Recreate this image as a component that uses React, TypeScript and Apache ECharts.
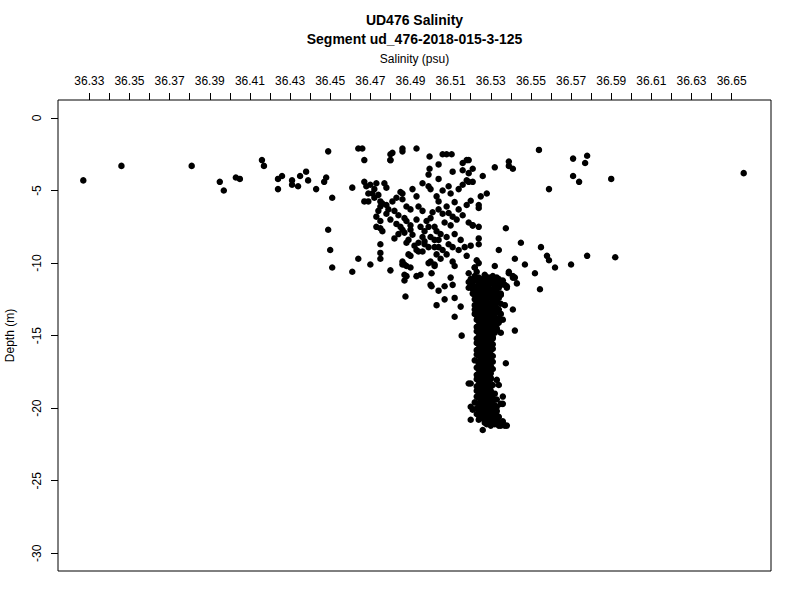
import React, { useEffect, useRef } from "react";
import * as echarts from "echarts";

const titleText = "UD476 Salinity";
const subtitleText = "Segment ud_476-2018-015-3-125";
const xAxisName = "Salinity (psu)";
const yAxisName = "Depth (m)";

const xTickValues = [
  36.33, 36.34, 36.35, 36.36, 36.37, 36.38, 36.39, 36.4, 36.41, 36.42, 36.43, 36.44,
  36.45, 36.46, 36.47, 36.48, 36.49, 36.5, 36.51, 36.52, 36.53, 36.54, 36.55, 36.56,
  36.57, 36.58, 36.59, 36.6, 36.61, 36.62, 36.63, 36.64, 36.65,
];
const xLabelValues = [
  36.33, 36.35, 36.37, 36.39, 36.41, 36.43, 36.45, 36.47, 36.49, 36.51, 36.53, 36.55,
  36.57, 36.59, 36.61, 36.63, 36.65,
];
const yTickValues = [0, -5, -10, -15, -20, -25, -30];

// Sparse near-surface points (salinity, depth)
const surfacePoints: [number, number][] = [
  [36.327, -4.3], [36.346, -3.3], [36.381, -3.3], [36.395, -4.4], [36.397, -5.0],
  [36.403, -4.1], [36.405, -4.2], [36.416, -2.9], [36.417, -3.3], [36.424, -4.2],
  [36.424, -4.9], [36.426, -4.0], [36.431, -4.3], [36.431, -4.6], [36.434, -4.7],
  [36.435, -4.0], [36.438, -3.7], [36.439, -4.3], [36.443, -4.9], [36.447, -4.4],
  [36.448, -4.1], [36.449, -2.3], [36.451, -5.5], [36.449, -7.7], [36.45, -9.1],
  [36.451, -10.3], [36.461, -10.6], [36.461, -4.8], [36.464, -2.1], [36.466, -2.1],
  [36.467, -2.9], [36.464, -9.7], [36.47, -10.1], [36.475, -9.7], [36.475, -9.3],
  [36.475, -8.7], [36.48, -10.5], [36.476, -7.8], [36.473, -7.5], [36.48, -2.9],
  [36.48, -2.5], [36.486, -2.1], [36.486, -2.3], [36.493, -2.1],
];

// Sparse points on the saltier side
const rightPoints: [number, number][] = [
  [36.554, -2.2], [36.571, -2.8], [36.578, -2.6], [36.577, -3.1], [36.571, -4.0],
  [36.574, -4.4], [36.59, -4.2], [36.559, -4.9], [36.656, -3.8], [36.539, -3.0],
  [36.539, -3.3], [36.541, -3.5], [36.532, -3.4], [36.526, -4.0], [36.521, -3.5],
  [36.521, -4.4], [36.528, -5.2], [36.525, -5.4], [36.524, -6.0], [36.524, -6.2],
  [36.5375, -7.6], [36.524, -7.5], [36.521, -7.4], [36.524, -8.3], [36.524, -8.7],
  [36.545, -8.6], [36.534, -9.1], [36.555, -8.9], [36.542, -9.7], [36.558, -9.5],
  [36.559, -9.8], [36.578, -9.5], [36.592, -9.6], [36.57, -10.1], [36.562, -10.3],
  [36.547, -10.1], [36.552, -10.7], [36.532, -10.2], [36.539, -10.6], [36.541, -10.9],
  [36.542, -11.0], [36.527, -10.8], [36.531, -10.9], [36.523, -9.8], [36.524, -10.0],
  [36.522, -10.3], [36.5545, -11.8],
];

// Upper mixed layer cloud
const mixedPoints: [number, number][] = [
  [36.481, -2.4], [36.48, -2.9], [36.4995, -2.65], [36.506, -2.5], [36.508, -2.5],
  [36.5105, -2.5], [36.504, -3.2], [36.4995, -3.5], [36.499, -3.9], [36.504, -4.2],
  [36.511, -3.7], [36.516, -3.1], [36.518, -2.9], [36.519, -2.9], [36.516, -3.6],
  [36.519, -3.8], [36.518, -4.3], [36.519, -4.4], [36.467, -4.4], [36.468, -4.7],
  [36.469, -5.2], [36.471, -5.2], [36.472, -5.5], [36.475, -5.75], [36.475, -6.1],
  [36.467, -5.75], [36.469, -5.75], [36.473, -4.5], [36.477, -4.5], [36.474, -6.4],
  [36.473, -6.8], [36.475, -7.1], [36.475, -7.6], [36.481, -5.75], [36.479, -6.3],
  [36.482, -6.4], [36.484, -6.7], [36.485, -5.1], [36.486, -5.2], [36.486, -5.6],
  [36.488, -6.1], [36.49, -6.3], [36.493, -5.4], [36.494, -6.1], [36.496, -6.4],
  [36.487, -6.9], [36.488, -7.1], [36.49, -7.4], [36.49, -7.7], [36.491, -8.05],
  [36.489, -8.4], [36.486, -7.7], [36.487, -7.9], [36.482, -8.3], [36.493, -7.0],
  [36.495, -7.5], [36.496, -8.2], [36.497, -8.5], [36.498, -7.1], [36.5, -6.9],
  [36.502, -7.5], [36.503, -7.8], [36.499, -4.7], [36.5, -4.9], [36.503, -5.4],
  [36.504, -5.75], [36.504, -6.3], [36.508, -6.1], [36.509, -4.7], [36.51, -5.2],
  [36.514, -4.9], [36.516, -4.6], [36.509, -6.55], [36.511, -6.8], [36.513, -7.0],
  [36.51, -7.4], [36.514, -6.3], [36.516, -6.7], [36.519, -7.2], [36.521, -7.4],
  [36.5, -8.2], [36.502, -8.4], [36.504, -8.4], [36.497, -8.7], [36.499, -8.9],
  [36.502, -8.9], [36.504, -8.9], [36.506, -9.1], [36.509, -8.7], [36.511, -8.9],
  [36.514, -9.1], [36.503, -9.4], [36.505, -9.7], [36.508, -9.4], [36.489, -9.4],
  [36.493, -9.1], [36.496, -9.2], [36.486, -9.9], [36.487, -10.1], [36.49, -10.3],
  [36.499, -10.0], [36.502, -10.2], [36.511, -9.9], [36.512, -10.2], [36.518, -9.5],
  [36.522, -10.3], [36.523, -10.6], [36.486, -10.1], [36.488, -10.2], [36.487, -10.8],
  [36.487, -11.2], [36.493, -10.9], [36.49, -9.5], [36.494, -9.2], [36.5, -9.9],
  [36.5005, -10.7], [36.5005, -11.6], [36.502, -10.1], [36.4875, -12.3], [36.488, -10.9],
  [36.495, -10.8],
  [36.47, -4.6], [36.472, -4.9], [36.474, -5.3], [36.476, -5.9], [36.478, -6.0],
  [36.478, -6.6], [36.48, -7.0], [36.483, -7.3], [36.485, -7.5], [36.484, -8.0],
  [36.488, -8.6], [36.492, -8.8], [36.494, -8.6], [36.497, -7.8], [36.499, -7.5],
  [36.501, -6.5], [36.506, -6.6], [36.507, -7.2], [36.505, -8.0], [36.508, -8.2],
  [36.512, -8.0], [36.515, -8.4], [36.517, -8.9], [36.52, -8.8], [36.518, -6.0],
  [36.52, -5.7], [36.512, -5.8], [36.506, -5.0], [36.496, -4.5], [36.491, -4.9],
  [36.478, -4.8], [36.483, -5.5],
];

// Transition / column edge points
const edgePoints: [number, number][] = [
  [36.503, -12.9], [36.507, -12.5], [36.512, -12.4], [36.512, -13.7], [36.515, -13.0],
  [36.5155, -15.0], [36.52, -18.3], [36.52, -20.8], [36.526, -21.5], [36.537, -21.2],
  [36.536, -19.7], [36.5375, -16.9], [36.542, -14.65], [36.537, -12.9], [36.541, -13.2],
  [36.533, -12.3], [36.5, -11.5], [36.504, -11.9], [36.507, -11.6], [36.511, -11.5],
  [36.51, -11.0], [36.519, -10.7], [36.52, -11.3], [36.522, -10.9], [36.527, -10.9],
  [36.528, -11.4], [36.53, -11.15], [36.539, -10.7], [36.541, -11.0], [36.543, -11.4],
  [36.537, -11.5], [36.538, -11.7], [36.522, -16.7], [36.519, -18.3], [36.52, -19.9],
  [36.521, -20.1], [36.535, -21.2], [36.532, -21.0], [36.535, -19.7], [36.536, -19.2],
  [36.533, -18.05], [36.534, -18.4], [36.536, -13.9], [36.535, -14.8], [36.533, -14.6],
];

// Dense deep column, even tenths
const columnPoints: [number, number][] = [
  [36.524, -11.0], [36.529, -11.0], [36.533, -11.0],
  [36.522, -11.2], [36.527, -11.2], [36.531, -11.2], [36.536, -11.2],
  [36.525, -11.4], [36.53, -11.4], [36.534, -11.4],
  [36.523, -11.6], [36.528, -11.6], [36.532, -11.6], [36.538, -11.6],
  [36.521, -11.8], [36.526, -11.8], [36.53, -11.8],
  [36.524, -12.0], [36.528, -12.0], [36.533, -12.0],
  [36.522, -12.2], [36.527, -12.2], [36.531, -12.2], [36.535, -12.2],
  [36.525, -12.4], [36.529, -12.4], [36.534, -12.4],
  [36.523, -12.6], [36.527, -12.6], [36.532, -12.6],
  [36.526, -12.8], [36.53, -12.8], [36.535, -12.8],
  [36.524, -13.0], [36.528, -13.0], [36.532, -13.0],
  [36.522, -13.2], [36.526, -13.2], [36.53, -13.2], [36.534, -13.2],
  [36.525, -13.4], [36.529, -13.4], [36.533, -13.4],
  [36.523, -13.6], [36.527, -13.6], [36.531, -13.6],
  [36.526, -13.8], [36.53, -13.8], [36.534, -13.8],
  [36.524, -14.0], [36.528, -14.0], [36.532, -14.0],
  [36.525, -14.2], [36.529, -14.2], [36.533, -14.2],
  [36.523, -14.4], [36.527, -14.4], [36.531, -14.4],
  [36.526, -14.6], [36.53, -14.6],
  [36.524, -14.8], [36.528, -14.8], [36.532, -14.8],
  [36.525, -15.0], [36.529, -15.0],
  [36.523, -15.2], [36.527, -15.2], [36.531, -15.2],
  [36.526, -15.4], [36.53, -15.4],
  [36.524, -15.6], [36.528, -15.6], [36.531, -15.6],
  [36.525, -15.8], [36.529, -15.8],
  [36.523, -16.0], [36.527, -16.0], [36.53, -16.0],
  [36.525, -16.2], [36.529, -16.2],
  [36.524, -16.4], [36.528, -16.4], [36.531, -16.4],
  [36.526, -16.6], [36.529, -16.6],
  [36.524, -16.8], [36.527, -16.8], [36.531, -16.8],
  [36.525, -17.0], [36.529, -17.0],
  [36.523, -17.2], [36.527, -17.2], [36.53, -17.2],
  [36.525, -17.4], [36.528, -17.4],
  [36.524, -17.6], [36.527, -17.6], [36.53, -17.6],
  [36.525, -17.8], [36.529, -17.8],
  [36.523, -18.0], [36.527, -18.0], [36.53, -18.0],
  [36.525, -18.2], [36.528, -18.2],
  [36.524, -18.4], [36.527, -18.4], [36.531, -18.4],
  [36.525, -18.6], [36.529, -18.6],
  [36.523, -18.8], [36.527, -18.8], [36.53, -18.8],
  [36.525, -19.0], [36.528, -19.0], [36.532, -19.0],
  [36.523, -19.2], [36.527, -19.2], [36.53, -19.2],
  [36.525, -19.4], [36.529, -19.4], [36.533, -19.4],
  [36.522, -19.6], [36.526, -19.6], [36.53, -19.6],
  [36.524, -19.8], [36.528, -19.8], [36.532, -19.8],
  [36.523, -20.0], [36.527, -20.0], [36.531, -20.0],
  [36.525, -20.2], [36.529, -20.2], [36.533, -20.2],
  [36.523, -20.4], [36.527, -20.4], [36.531, -20.4],
  [36.526, -20.6], [36.53, -20.6], [36.534, -20.6],
  [36.524, -20.8], [36.528, -20.8], [36.532, -20.8],
  [36.527, -21.0], [36.531, -21.0], [36.535, -21.0],
  [36.53, -21.2], [36.534, -21.2], [36.538, -21.2],
];

// Dense deep column, odd tenths
const columnPointsOdd: [number, number][] = [
  [36.52, -11.1], [36.526, -11.1], [36.534, -11.1],
  [36.519, -11.3], [36.524, -11.3], [36.529, -11.3], [36.533, -11.3],
  [36.521, -11.5], [36.527, -11.5], [36.535, -11.5],
  [36.519, -11.7], [36.525, -11.7], [36.529, -11.7], [36.534, -11.7],
  [36.523, -11.9], [36.528, -11.9], [36.532, -11.9],
  [36.521, -12.1], [36.526, -12.1], [36.53, -12.1], [36.535, -12.1],
  [36.524, -12.3], [36.529, -12.3], [36.533, -12.3],
  [36.522, -12.5], [36.526, -12.5], [36.531, -12.5],
  [36.524, -12.7], [36.528, -12.7], [36.533, -12.7],
  [36.522, -12.9], [36.527, -12.9], [36.531, -12.9],
  [36.525, -13.1], [36.529, -13.1], [36.533, -13.1],
  [36.524, -13.3], [36.528, -13.3], [36.532, -13.3],
  [36.522, -13.5], [36.526, -13.5], [36.53, -13.5], [36.535, -13.5],
  [36.524, -13.7], [36.528, -13.7], [36.532, -13.7],
  [36.523, -13.9], [36.527, -13.9], [36.531, -13.9],
  [36.526, -14.1], [36.53, -14.1], [36.534, -14.1],
  [36.524, -14.3], [36.528, -14.3], [36.532, -14.3],
  [36.525, -14.5], [36.529, -14.5], [36.533, -14.5],
  [36.523, -14.7], [36.527, -14.7], [36.531, -14.7],
  [36.526, -14.9], [36.53, -14.9],
  [36.524, -15.1], [36.528, -15.1], [36.531, -15.1],
  [36.525, -15.3], [36.529, -15.3],
  [36.523, -15.5], [36.527, -15.5], [36.53, -15.5],
  [36.526, -15.7], [36.529, -15.7],
  [36.524, -15.9], [36.527, -15.9], [36.531, -15.9],
  [36.525, -16.1], [36.528, -16.1],
  [36.523, -16.3], [36.527, -16.3], [36.53, -16.3],
  [36.525, -16.5], [36.528, -16.5],
  [36.526, -16.7], [36.53, -16.7],
  [36.524, -16.9], [36.528, -16.9],
  [36.526, -17.1], [36.53, -17.1],
  [36.524, -17.3], [36.528, -17.3], [36.531, -17.3],
  [36.526, -17.5], [36.529, -17.5],
  [36.523, -17.7], [36.528, -17.7],
  [36.526, -17.9], [36.53, -17.9],
  [36.524, -18.1], [36.528, -18.1],
  [36.526, -18.3], [36.529, -18.3],
  [36.523, -18.5], [36.527, -18.5], [36.53, -18.5],
  [36.526, -18.7], [36.528, -18.7],
  [36.524, -18.9], [36.529, -18.9],
  [36.526, -19.1], [36.53, -19.1],
  [36.524, -19.3], [36.528, -19.3], [36.531, -19.3],
  [36.527, -19.5], [36.531, -19.5],
  [36.524, -19.7], [36.528, -19.7],
  [36.526, -19.9], [36.53, -19.9], [36.533, -19.9],
  [36.525, -20.1], [36.529, -20.1],
  [36.527, -20.3], [36.531, -20.3],
  [36.524, -20.5], [36.528, -20.5], [36.533, -20.5],
  [36.526, -20.7], [36.53, -20.7],
  [36.529, -20.9], [36.533, -20.9], [36.536, -20.9],
  [36.528, -21.1], [36.532, -21.1], [36.536, -21.1],
];

const FONT = "Liberation Sans";

export default function App() {
  const ref = useRef<HTMLDivElement>(null);

  useEffect(() => {
    if (!ref.current) return;
    const chart = echarts.init(ref.current, null, { renderer: "svg" });
    const gridLeft = 58;
    const gridRight = 29;
    const gridTop = 100;
    const gridBottom = 29;
    const plotCenterX = gridLeft + (800 - gridLeft - gridRight) / 2;
    const plotCenterY = gridTop + (600 - gridTop - gridBottom) / 2;
    const allPoints = [
      ...surfacePoints,
      ...rightPoints,
      ...mixedPoints,
      ...edgePoints,
      ...columnPoints,
      ...columnPointsOdd,
    ];
    chart.setOption({
      animation: false,
      backgroundColor: "#ffffff",
      textStyle: { fontFamily: FONT },
      grid: {
        left: gridLeft,
        right: gridRight,
        top: gridTop,
        bottom: gridBottom,
        show: true,
        borderColor: "#000",
        borderWidth: 1,
        backgroundColor: "transparent",
        outerBoundsMode: "none",
      },
      graphic: [
        {
          type: "text",
          x: plotCenterX,
          y: 20,
          style: {
            text: titleText,
            font: `bold 14px "${FONT}"`,
            fill: "#000",
            textAlign: "center",
            textVerticalAlign: "middle",
          },
        },
        {
          type: "text",
          x: plotCenterX,
          y: 39,
          style: {
            text: subtitleText,
            font: `bold 14px "${FONT}"`,
            fill: "#000",
            textAlign: "center",
            textVerticalAlign: "middle",
          },
        },
        {
          type: "text",
          x: plotCenterX,
          y: 59,
          style: {
            text: xAxisName,
            font: `12px "${FONT}"`,
            fill: "#000",
            textAlign: "center",
            textVerticalAlign: "middle",
          },
        },
        {
          type: "text",
          x: 10,
          y: plotCenterY,
          rotation: Math.PI / 2,
          style: {
            text: yAxisName,
            font: `12px "${FONT}"`,
            fill: "#000",
            textAlign: "center",
            textVerticalAlign: "middle",
          },
        },
      ],
      xAxis: {
        type: "value",
        position: "top",
        min: 36.3144,
        max: 36.6696,
        axisLine: { show: false, onZero: false },
        splitLine: { show: false },
        axisTick: {
          show: true,
          inside: false,
          length: 7,
          lineStyle: { color: "#000", width: 1 },
          customValues: xTickValues,
        },
        axisLabel: {
          show: true,
          margin: 13,
          color: "#000",
          fontSize: 12,
          fontFamily: FONT,
          customValues: xLabelValues,
          formatter: (v: number) => v.toFixed(2),
        },
      },
      yAxis: {
        type: "value",
        min: -31.22,
        max: 1.24,
        axisLine: { show: false, onZero: false },
        splitLine: { show: false },
        axisTick: {
          show: true,
          inside: false,
          length: 7,
          lineStyle: { color: "#000", width: 1 },
          customValues: yTickValues,
        },
        axisLabel: {
          show: true,
          rotate: 90,
          margin: 15,
          color: "#000",
          fontSize: 12,
          fontFamily: FONT,
          customValues: yTickValues,
          formatter: (v: number) => String(v),
        },
      },
      series: [
        {
          type: "scatter",
          data: allPoints,
          symbol: "circle",
          symbolSize: 6.5,
          itemStyle: { color: "#000", opacity: 1 },
          emphasis: { disabled: true },
        },
      ],
    });
    return () => chart.dispose();
  }, []);

  return (
    <div
      ref={ref}
      style={{ position: "absolute", left: 0, top: 0, width: 800, height: 600 }}
    />
  );
}
